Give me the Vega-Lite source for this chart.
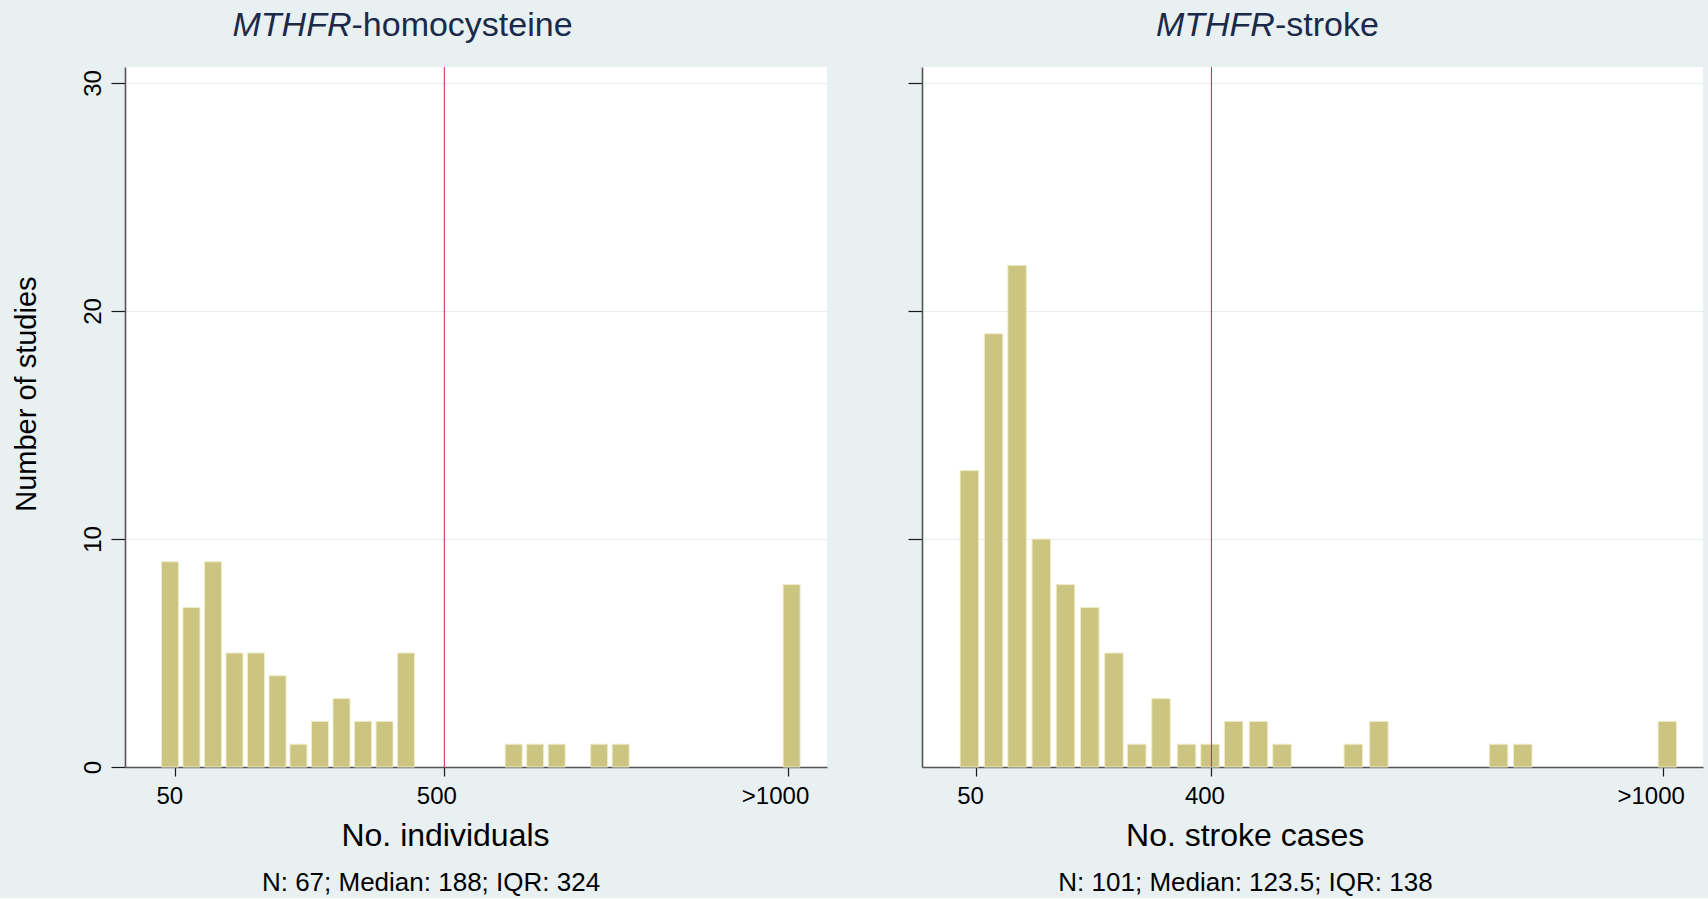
{
  "$schema": "https://vega.github.io/schema/vega-lite/v6.json",
  "background": "#e8f0f2",
  "padding": {"left": 12, "top": 8, "right": 6, "bottom": 2},
  "config": {
    "font": "Liberation Sans",
    "view": {"fill": "white", "stroke": null},
    "axis": {
      "domainColor": "#555555",
      "domainWidth": 1.6,
      "tickColor": "#1a1a1a",
      "tickWidth": 1.2,
      "labelColor": "black",
      "titleColor": "black",
      "labelFont": "Liberation Sans",
      "titleFont": "Liberation Sans",
      "titleFontWeight": "normal"
    },
    "concat": {"spacing": 80}
  },
  "datasets": {
    "homocysteine": [
      {"participants": 41, "studies": 9},
      {"participants": 77, "studies": 7},
      {"participants": 113, "studies": 9},
      {"participants": 149, "studies": 5},
      {"participants": 185, "studies": 5},
      {"participants": 221, "studies": 4},
      {"participants": 256, "studies": 1},
      {"participants": 292, "studies": 2},
      {"participants": 328, "studies": 3},
      {"participants": 364, "studies": 2},
      {"participants": 400, "studies": 2},
      {"participants": 436, "studies": 5},
      {"participants": 616, "studies": 1},
      {"participants": 652, "studies": 1},
      {"participants": 688, "studies": 1},
      {"participants": 759, "studies": 1},
      {"participants": 795, "studies": 1},
      {"participants": 1081, "studies": 8}
    ],
    "stroke": [
      {"cases": 40, "studies": 13},
      {"cases": 76, "studies": 19},
      {"cases": 111, "studies": 22},
      {"cases": 147, "studies": 10},
      {"cases": 183, "studies": 8},
      {"cases": 219, "studies": 7},
      {"cases": 255, "studies": 5},
      {"cases": 289, "studies": 1},
      {"cases": 325, "studies": 3},
      {"cases": 363, "studies": 1},
      {"cases": 398, "studies": 1},
      {"cases": 433, "studies": 2},
      {"cases": 470, "studies": 2},
      {"cases": 505, "studies": 1},
      {"cases": 611, "studies": 1},
      {"cases": 649, "studies": 2},
      {"cases": 827, "studies": 1},
      {"cases": 863, "studies": 1},
      {"cases": 1078, "studies": 2}
    ],
    "cutHcy": [{"threshold": 500}],
    "cutStroke": [{"threshold": 400}]
  },
  "hconcat": [
    {
      "width": 702,
      "height": 700,
      "title": {
        "text": "N: 67; Median: 188; IQR: 324",
        "orient": "bottom",
        "anchor": "middle",
        "frame": "group",
        "dx": -45,
        "fontSize": 26,
        "fontWeight": "normal",
        "color": "black",
        "offset": 18
      },
      "resolve": {"axis": {"x": "independent", "y": "independent"}},
      "layer": [
        {
          "data": {"name": "homocysteine"},
          "mark": {"type": "bar", "width": 17, "color": "#ccc481", "stroke": "#efecc9", "strokeWidth": 1},
          "encoding": {
            "x": {
              "field": "participants",
              "type": "quantitative",
              "scale": {"domain": [-25.8, 1131.8], "nice": false, "zero": false},
              "axis": {
                "orient": "bottom",
                "values": [50, 500, 1075],
                "labelExpr": "datum.value > 1000 ? '>1000' : datum.label",
                "labelFontSize": 24,
                "labelBaseline": "alphabetic",
                "labelPadding": 27.5,
                "labelOffset": {"expr": "datum.value > 1000 ? -13 : (datum.value > 100 ? -8 : -6)"},
                "labelFlush": false,
                "labelOverlap": false,
                "tickSize": 9,
                "grid": false,
                "title": "No. individuals",
                "titleFontSize": 32,
                "titleX": 320,
                "titleY": 78.5,
                "titleAlign": "center",
                "titleBaseline": "alphabetic"
              }
            },
            "y": {
              "field": "studies",
              "type": "quantitative",
              "scale": {"domain": [0, 30.7], "nice": false},
              "axis": {
                "orient": "left",
                "values": [0, 10, 20, 30],
                "labelFontSize": 24,
                "labelAngle": 270,
                "labelAlign": "center",
                "labelBaseline": "alphabetic",
                "labelPadding": 11,
                "tickSize": 14,
                "grid": true,
                "gridColor": "#e6eef0",
                "title": "Number of studies",
                "titleFontSize": 29,
                "titleAngle": 270,
                "titleX": -90,
                "titleY": 326.6,
                "titleAlign": "center",
                "titleBaseline": "alphabetic"
              }
            }
          }
        },
        {
          "data": {"name": "cutHcy"},
          "mark": {"type": "rule", "color": "#cf1f4b", "strokeWidth": 1},
          "encoding": {
            "x": {
              "field": "threshold",
              "type": "quantitative",
              "scale": {"domain": [-25.8, 1131.8], "nice": false, "zero": false},
              "axis": {
                "orient": "top",
                "domain": false,
                "ticks": false,
                "labels": false,
                "grid": false,
                "title": "-homocysteine",
                "titleFontSize": 34,
                "titleColor": "#1c2a4a",
                "titleX": 226,
                "titleY": -31.7,
                "titleAlign": "left",
                "titleBaseline": "alphabetic"
              }
            },
            "y": {
              "datum": 0,
              "axis": {
                "orient": "right",
                "domain": false,
                "ticks": false,
                "labels": false,
                "grid": false,
                "title": "MTHFR",
                "titleFontSize": 34,
                "titleFontStyle": "italic",
                "titleColor": "#1c2a4a",
                "titleAngle": 0,
                "titleX": -476,
                "titleY": -31.7,
                "titleAlign": "right",
                "titleBaseline": "alphabetic"
              }
            },
            "y2": {"datum": 30.7}
          }
        }
      ]
    },
    {
      "width": 781,
      "height": 700,
      "title": {
        "text": "N: 101; Median: 123.5; IQR: 138",
        "orient": "bottom",
        "anchor": "middle",
        "frame": "group",
        "dx": -67,
        "fontSize": 26,
        "fontWeight": "normal",
        "color": "black",
        "offset": 18
      },
      "resolve": {"axis": {"x": "independent", "y": "independent"}},
      "layer": [
        {
          "data": {"name": "stroke"},
          "mark": {"type": "bar", "width": 18.5, "color": "#ccc481", "stroke": "#efecc9", "strokeWidth": 1},
          "encoding": {
            "x": {
              "field": "cases",
              "type": "quantitative",
              "scale": {"domain": [-23, 1123.6], "nice": false, "zero": false},
              "axis": {
                "orient": "bottom",
                "values": [50, 400, 1071],
                "labelExpr": "datum.value > 1000 ? '>1000' : datum.label",
                "labelFontSize": 24,
                "labelBaseline": "alphabetic",
                "labelPadding": 27.5,
                "labelOffset": {"expr": "datum.value > 1000 ? -12 : (datum.value > 100 ? -7 : -6)"},
                "labelFlush": false,
                "labelOverlap": false,
                "tickSize": 9,
                "grid": false,
                "title": "No. stroke cases",
                "titleFontSize": 32,
                "titleX": 322.7,
                "titleY": 78.5,
                "titleAlign": "center",
                "titleBaseline": "alphabetic"
              }
            },
            "y": {
              "field": "studies",
              "type": "quantitative",
              "scale": {"domain": [0, 30.7], "nice": false},
              "axis": {
                "orient": "left",
                "values": [10, 20, 30],
                "labels": false,
                "tickSize": 14,
                "grid": true,
                "gridColor": "#e6eef0",
                "title": null
              }
            }
          }
        },
        {
          "data": {"name": "cutStroke"},
          "mark": {"type": "rule", "color": "#cf1f4b", "strokeWidth": 1},
          "encoding": {
            "x": {
              "field": "threshold",
              "type": "quantitative",
              "scale": {"domain": [-23, 1123.6], "nice": false, "zero": false},
              "axis": {
                "orient": "top",
                "domain": false,
                "ticks": false,
                "labels": false,
                "grid": false,
                "title": "-stroke",
                "titleFontSize": 34,
                "titleColor": "#1c2a4a",
                "titleX": 352.4,
                "titleY": -31.7,
                "titleAlign": "left",
                "titleBaseline": "alphabetic"
              }
            },
            "y": {
              "datum": 0,
              "axis": {
                "orient": "right",
                "domain": false,
                "ticks": false,
                "labels": false,
                "grid": false,
                "title": "MTHFR",
                "titleFontSize": 34,
                "titleFontStyle": "italic",
                "titleColor": "#1c2a4a",
                "titleAngle": 0,
                "titleX": -428.6,
                "titleY": -31.7,
                "titleAlign": "right",
                "titleBaseline": "alphabetic"
              }
            },
            "y2": {"datum": 30.7}
          }
        }
      ]
    }
  ]
}
